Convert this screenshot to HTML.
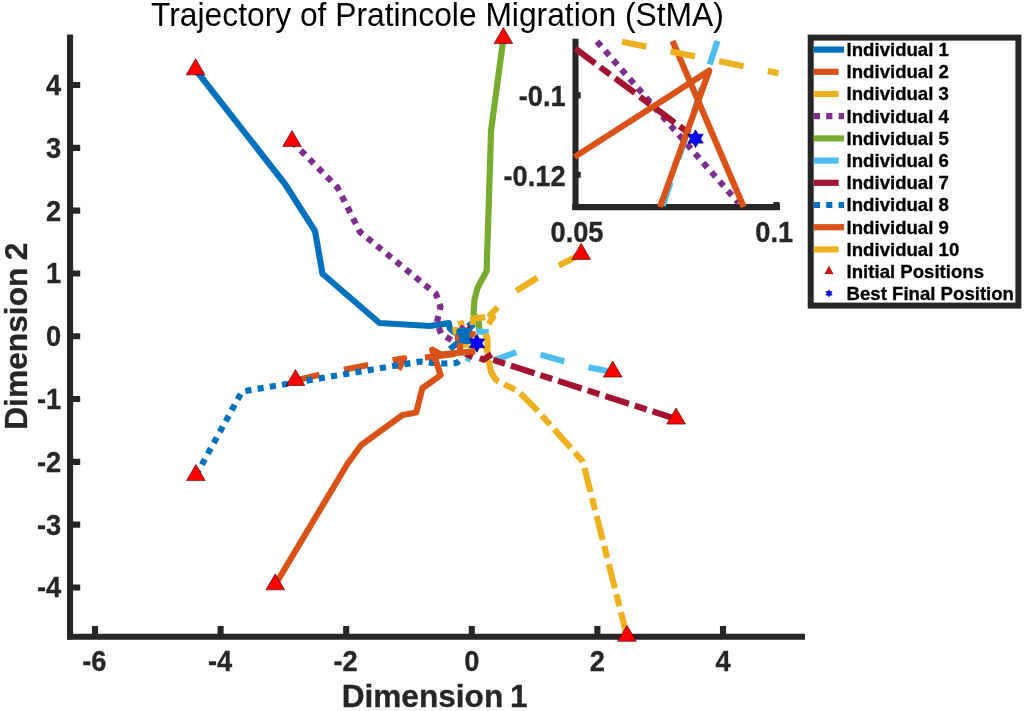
<!DOCTYPE html>
<html><head><meta charset="utf-8">
<style>
html,body{margin:0;padding:0;background:#fff;}
body{width:1024px;height:711px;overflow:hidden;font-family:"Liberation Sans",sans-serif;}
svg{display:block;will-change:transform;transform:translateZ(0);}
text{font-family:"Liberation Sans",sans-serif;}
.b{font-weight:bold;}
.ln{fill:none;stroke-width:6.2;stroke-linejoin:round;stroke-linecap:butt;}
.c1{stroke:#0072BD}.c2{stroke:#D95319}.c3{stroke:#EDB120}.c4{stroke:#7E2F8E}.c5{stroke:#77AC30}.c6{stroke:#4DBEEE}.c7{stroke:#A2142F}
.dot{stroke-dasharray:6.2 6.2}
.dash{stroke-dasharray:24.8 24.8}
.dd{stroke-dasharray:24.8 6.2 12.4 6.2}
.ax{stroke:#262626;stroke-width:6.1;fill:none;stroke-linecap:butt}
.tri{fill:#FF0000;stroke:#300000;stroke-width:0.6}
</style></head>
<body>
<svg width="1024" height="711" viewBox="0 0 1024 711">
<rect width="1024" height="711" fill="#fff"/>
<defs>
<path id="tri" d="M0,-11 L9.35,5.1 L-9.35,5.1 Z"/>
<path id="star" d="M0,-8.85 L2.55,-4.42 L7.66,-4.42 L5.11,0 L7.66,4.42 L2.55,4.42 L0,8.85 L-2.55,4.42 L-7.66,4.42 L-5.11,0 L-7.66,-4.42 L-2.55,-4.42 Z"/>
</defs>

<text transform="translate(437.40,25.60) scale(0.984,1)" font-size="32.3" text-anchor="middle" fill="#000">Trajectory of Pratincole Migration (StMA)</text>
<g class="ax">
<path d="M70.05,34.5 V639.6"/>
<path d="M67,636.7 H805"/>
<path d="M95.00,636 V626 M220.60,636 V626 M346.20,636 V626 M471.80,636 V626 M597.40,636 V626 M723.00,636 V626"/>
<path d="M70,85.05 H80.2 M70,147.85 H80.2 M70,210.65 H80.2 M70,273.45 H80.2 M70,336.25 H80.2 M70,399.05 H80.2 M70,461.85 H80.2 M70,524.65 H80.2 M70,587.45 H80.2"/>
</g>
<text transform="translate(94.40,671.20) scale(0.94,1)" font-size="29" text-anchor="middle" fill="#262626" class="b" stroke="#262626" stroke-width="0.3">-6</text>
<text transform="translate(220.00,671.20) scale(0.94,1)" font-size="29" text-anchor="middle" fill="#262626" class="b" stroke="#262626" stroke-width="0.3">-4</text>
<text transform="translate(345.60,671.20) scale(0.94,1)" font-size="29" text-anchor="middle" fill="#262626" class="b" stroke="#262626" stroke-width="0.3">-2</text>
<text transform="translate(471.80,671.20) scale(0.94,1)" font-size="29" text-anchor="middle" fill="#262626" class="b" stroke="#262626" stroke-width="0.3">0</text>
<text transform="translate(597.40,671.20) scale(0.94,1)" font-size="29" text-anchor="middle" fill="#262626" class="b" stroke="#262626" stroke-width="0.3">2</text>
<text transform="translate(723.00,671.20) scale(0.94,1)" font-size="29" text-anchor="middle" fill="#262626" class="b" stroke="#262626" stroke-width="0.3">4</text>
<text transform="translate(61.20,95.05) scale(0.94,1)" font-size="29" text-anchor="end" fill="#262626" class="b" stroke="#262626" stroke-width="0.3">4</text>
<text transform="translate(61.20,157.85) scale(0.94,1)" font-size="29" text-anchor="end" fill="#262626" class="b" stroke="#262626" stroke-width="0.3">3</text>
<text transform="translate(61.20,220.65) scale(0.94,1)" font-size="29" text-anchor="end" fill="#262626" class="b" stroke="#262626" stroke-width="0.3">2</text>
<text transform="translate(61.20,283.45) scale(0.94,1)" font-size="29" text-anchor="end" fill="#262626" class="b" stroke="#262626" stroke-width="0.3">1</text>
<text transform="translate(61.20,346.25) scale(0.94,1)" font-size="29" text-anchor="end" fill="#262626" class="b" stroke="#262626" stroke-width="0.3">0</text>
<text transform="translate(61.20,409.05) scale(0.94,1)" font-size="29" text-anchor="end" fill="#262626" class="b" stroke="#262626" stroke-width="0.3">-1</text>
<text transform="translate(61.20,471.85) scale(0.94,1)" font-size="29" text-anchor="end" fill="#262626" class="b" stroke="#262626" stroke-width="0.3">-2</text>
<text transform="translate(61.20,534.65) scale(0.94,1)" font-size="29" text-anchor="end" fill="#262626" class="b" stroke="#262626" stroke-width="0.3">-3</text>
<text transform="translate(61.20,597.45) scale(0.94,1)" font-size="29" text-anchor="end" fill="#262626" class="b" stroke="#262626" stroke-width="0.3">-4</text>
<text word-spacing="-2" transform="translate(434.60,706.60) scale(0.988,1)" font-size="32" text-anchor="middle" fill="#262626" class="b" stroke="#262626" stroke-width="0.3">Dimension 1</text>
<text class="b" transform="translate(26.7,336.2) rotate(-90) scale(0.992,1)" word-spacing="-1.5" font-size="32" text-anchor="middle" fill="#262626" stroke="#262626" stroke-width="0.3">Dimension 2</text>
<g id="lines">
<!-- 1 blue solid -->
<path class="ln c1" d="M195.6,69.75 L285,184 L315,231 L322.5,273.75 L379.5,323 L430,326 L448.9,323.1 L449.8,328.5 L454.8,332.5 L461,334 L466,337 L463,341"/>
<path class="ln c1" d="M468.5,322.1 L473.5,328.5"/>
<!-- 2 orange dashed -->
<path class="ln c2 dash" d="M295.5,380.5 L330,372.4 L404.2,358.2 L398.5,369.5"/>
<path class="ln c2" d="M425,357.6 L455,353.8"/>
<!-- 3 yellow dash-dot -->
<path class="ln c3 dd" d="M627,636.25 L582.8,461.5 L538,411 L518.5,391.5 L496,380 L491.2,372.5 L488.2,359.7 L487.5,350"/>
<path class="ln c3" d="M460.2,320.7 L462.1,327"/>
<path class="ln c3" d="M454.8,327 L456.2,334.4"/>
<path class="ln c3" d="M461.7,344.8 L469.5,344.3"/>
<!-- 4 purple dotted -->
<path class="ln c4 dot" d="M292,141.5 L337.5,187.5 L360,232 L436,294 L440.5,307 L436.75,323 L441.3,334 L451.6,340.2 L464,345"/>
<path class="ln c4" d="M460,327 L464,330" stroke-width="4"/>
<!-- 5 green -->
<path class="ln c5" d="M503.4,38.5 L491.1,130 L486.6,271 L477.5,288 L474.4,300 L473.5,314 L478.9,322 L479.3,331"/>
<!-- 6 light blue dashed -->
<path class="ln c6 dash" d="M612.75,372 L577,365 L540,354.5 L528,351 L517.2,351.8 L494,360.5"/>
<path class="ln c6" d="M476.4,331.5 L488.7,332"/>
<path class="ln c6" d="M466,357.5 L471,360"/>
<!-- 7 dark red dash-dot -->
<path class="ln c7 dd" d="M676.1,419 L493.2,359.9 L491.9,354.2 L483.5,359.7 L479.8,358.2"/>
<path class="ln c7" d="M465.6,353.6 L472.5,357"/>
<path class="ln c7" d="M466.5,327.5 L468.5,329.5 M468,337 L470.5,339" stroke-width="3"/>
<!-- 8 blue dotted -->
<path class="ln c1 dot" d="M195.9,475.5 L242,391.5 L420,361.5 L431.3,362.8 L444,363.5 L456.7,363 L463.6,357"/>
<path class="ln c1" d="M449.8,349.2 L459.7,341.3"/>
<path class="ln c1" d="M459.5,331 L469.5,331 L469.5,341 L459.5,341 Z" fill="#0072BD" stroke-width="2"/>
<!-- 9 orange solid -->
<path class="ln c2" d="M275.25,584.75 L347.5,463.75 L361.25,445 L402.5,415 L416.25,412.5 L422.4,388.1 L440.6,375.3 L435.2,358.5 L432.2,349.7 L441,354.5 L475.4,351.2"/>
<path class="ln c2" d="M460,343 L460,352"/>
<path class="ln c2" d="M469.7,334.4 L475.7,334.4"/>
<path class="ln c2" d="M455,338 L459,338" stroke-width="3"/>
<!-- 10 yellow dashed -->
<path class="ln c3 dash" d="M581,254.3 L549,270.5 L516,291 L505,300 L497.6,307.4 L490.2,314.8 L493.1,317.2 L488.7,324.1"/>
<path class="ln c3" d="M473,325.1 L473,318.7 L485.3,317.2"/>
<path class="ln c3" d="M484.8,334 L487.2,337.4 L487.7,347.2 L483.3,349.2"/>
</g>

<g class="tri"><use href="#tri" x="195.6" y="69.75"/><use href="#tri" x="292" y="141.5"/><use href="#tri" x="503.4" y="38.5"/><use href="#tri" x="581.2" y="254.3"/><use href="#tri" x="612.75" y="372"/><use href="#tri" x="676.1" y="419"/><use href="#tri" x="627" y="636.25"/><use href="#tri" x="295.5" y="380.5"/><use href="#tri" x="195.9" y="475.5"/><use href="#tri" x="275.25" y="584.75"/></g>
<use href="#star" x="476.9" y="343.3" fill="#0000FF" stroke="#000040" stroke-width="0.7"/>
<g id="inset">
<g class="ax">
<path d="M575.5,38.75 V210.1"/>
<path d="M572.3,207.1 H780"/>
<path d="M575.5,95.4 H580.7 M575.5,174.7 H580.7 M776.5,206 V202"/>
</g>
<path class="ln c4 dot" d="M597,41.5 L738.5,203"/>
<path class="ln c6 dash" d="M717.5,41 L662,208"/>
<path class="ln c7 dd" d="M575.3,48.6 L690.8,134.6"/>
<path class="ln c2" d="M574.5,157 L709.2,70.6 L660,207"/>
<path class="ln c2" d="M672.5,41 L743.75,207"/>
<path class="ln c3 dash" d="M622,41.7 L778.5,73.2"/>
<use href="#star" x="695.5" y="138.7" fill="#0000FF" stroke="#000040" stroke-width="0.7"/>
</g>
<text transform="translate(565.60,106.20) scale(0.94,1)" font-size="29" text-anchor="end" fill="#262626" class="b" stroke="#262626" stroke-width="0.3">-0.1</text>
<text transform="translate(565.60,185.60) scale(0.94,1)" font-size="29" text-anchor="end" fill="#262626" class="b" stroke="#262626" stroke-width="0.3">-0.12</text>
<text transform="translate(577.00,242.00) scale(0.94,1)" font-size="29" text-anchor="middle" fill="#262626" class="b" stroke="#262626" stroke-width="0.3">0.05</text>
<text transform="translate(774.30,242.00) scale(0.94,1)" font-size="29" text-anchor="middle" fill="#262626" class="b" stroke="#262626" stroke-width="0.3">0.1</text>
<g id="legend"><rect x="810.7" y="37.6" width="207.7" height="268" fill="#fff" stroke="#262626" stroke-width="6"/>
<path class="ln c1" d="M813.8,49.60 H844"/>
<path class="ln c2 dash" d="M813.8,71.80 H844"/>
<path class="ln c3 dd" d="M813.8,94.00 H844"/>
<path class="ln c4 dot" d="M813.8,116.20 H844"/>
<path class="ln c5" d="M813.8,138.40 H844"/>
<path class="ln c6 dash" d="M813.8,160.60 H844"/>
<path class="ln c7 dd" d="M813.8,182.80 H844"/>
<path class="ln c1 dot" d="M813.8,205.00 H844"/>
<path class="ln c2" d="M813.8,227.20 H844"/>
<path class="ln c3 dash" d="M813.8,249.40 H844"/>
<path class="tri" d="M829,266.50 L832.9,273.70 L825.1,273.70 Z" stroke-width="0.5"/>
<use href="#star" transform="translate(829,293.30) scale(0.42)" fill="#0000FF" stroke="#00006a" stroke-width="1"/>
<text transform="translate(846.60,55.95) scale(1,1)" font-size="18.6" text-anchor="start" fill="#000" class="b" stroke="#000" stroke-width="0.3">Individual 1</text>
<text transform="translate(846.60,78.15) scale(1,1)" font-size="18.6" text-anchor="start" fill="#000" class="b" stroke="#000" stroke-width="0.3">Individual 2</text>
<text transform="translate(846.60,100.35) scale(1,1)" font-size="18.6" text-anchor="start" fill="#000" class="b" stroke="#000" stroke-width="0.3">Individual 3</text>
<text transform="translate(846.60,122.55) scale(1,1)" font-size="18.6" text-anchor="start" fill="#000" class="b" stroke="#000" stroke-width="0.3">Individual 4</text>
<text transform="translate(846.60,144.75) scale(1,1)" font-size="18.6" text-anchor="start" fill="#000" class="b" stroke="#000" stroke-width="0.3">Individual 5</text>
<text transform="translate(846.60,166.95) scale(1,1)" font-size="18.6" text-anchor="start" fill="#000" class="b" stroke="#000" stroke-width="0.3">Individual 6</text>
<text transform="translate(846.60,189.15) scale(1,1)" font-size="18.6" text-anchor="start" fill="#000" class="b" stroke="#000" stroke-width="0.3">Individual 7</text>
<text transform="translate(846.60,211.35) scale(1,1)" font-size="18.6" text-anchor="start" fill="#000" class="b" stroke="#000" stroke-width="0.3">Individual 8</text>
<text transform="translate(846.60,233.55) scale(1,1)" font-size="18.6" text-anchor="start" fill="#000" class="b" stroke="#000" stroke-width="0.3">Individual 9</text>
<text transform="translate(846.60,255.75) scale(1,1)" font-size="18.6" text-anchor="start" fill="#000" class="b" stroke="#000" stroke-width="0.3">Individual 10</text>
<text transform="translate(846.60,277.95) scale(1,1)" font-size="18.6" text-anchor="start" fill="#000" class="b" stroke="#000" stroke-width="0.3">Initial Positions</text>
<text transform="translate(846.60,300.15) scale(1,1)" font-size="18.6" text-anchor="start" fill="#000" class="b" stroke="#000" stroke-width="0.3">Best Final Position</text>
</g>
</svg>
</body></html>
